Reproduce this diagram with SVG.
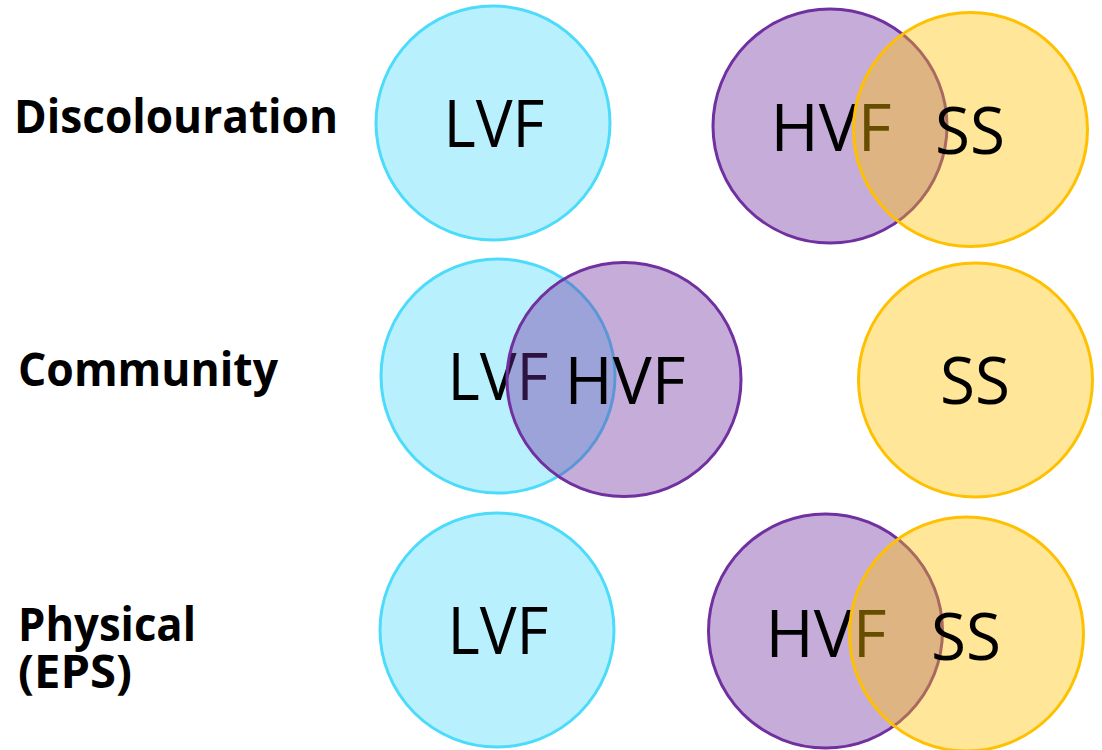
<svg xmlns="http://www.w3.org/2000/svg" width="1102" height="750" viewBox="0 0 1102 750">
<style>
.lab{font-family:"Open Sans","Liberation Sans",sans-serif;font-weight:bold;font-size:46px;fill:#000}
.t{font-family:"Open Sans","Liberation Sans",sans-serif;font-size:66px;fill:#000;text-anchor:middle}
.c{stroke-width:3}
.lvf{fill:rgba(77,219,251,0.4);stroke:#4ddbfb}
.hvf{fill:rgba(112,48,160,0.4);stroke:#7030a0}
.ss{fill:rgba(255,192,0,0.4);stroke:#ffc000}
</style>
<rect width="1102" height="750" fill="#fff"/>
<g id="labels">
<text class="lab" x="14" y="133" textLength="324" lengthAdjust="spacingAndGlyphs">Discolouration</text>
<text class="lab" x="18" y="386" textLength="260" lengthAdjust="spacingAndGlyphs">Community</text>
<text class="lab" x="18" y="641" textLength="178" lengthAdjust="spacingAndGlyphs">Physical</text>
<text class="lab" x="18" y="688" textLength="114" lengthAdjust="spacingAndGlyphs">(EPS)</text>
</g>
<g id="row1">
<g id="r1-lvf"><circle class="c lvf" cx="493" cy="123" r="117"/><text class="t" x="494" y="147" textLength="101" lengthAdjust="spacingAndGlyphs">LVF</text></g>
<g id="r1-hvf"><circle class="c hvf" cx="830" cy="126" r="117"/><text class="t" x="831" y="151" textLength="121" lengthAdjust="spacingAndGlyphs">HVF</text></g>
<g id="r1-ss"><circle class="c ss" cx="970.5" cy="129.5" r="117"/><text class="t" x="970" y="154" textLength="70" lengthAdjust="spacingAndGlyphs">SS</text></g>
</g>
<g id="row2">
<g id="r2-lvf"><circle class="c lvf" cx="498" cy="376" r="117"/><text class="t" x="498" y="400" textLength="101" lengthAdjust="spacingAndGlyphs">LVF</text></g>
<g id="r2-hvf"><circle class="c hvf" cx="624" cy="379.5" r="117"/><text class="t" x="625" y="404" textLength="121" lengthAdjust="spacingAndGlyphs">HVF</text></g>
<g id="r2-ss"><circle class="c ss" cx="975.5" cy="380" r="117"/><text class="t" x="975" y="404" textLength="70" lengthAdjust="spacingAndGlyphs">SS</text></g>
</g>
<g id="row3">
<g id="r3-lvf"><circle class="c lvf" cx="497" cy="630" r="117"/><text class="t" x="498" y="654" textLength="101" lengthAdjust="spacingAndGlyphs">LVF</text></g>
<g id="r3-hvf"><circle class="c hvf" cx="825.5" cy="631" r="117"/><text class="t" x="826" y="657" textLength="121" lengthAdjust="spacingAndGlyphs">HVF</text></g>
<g id="r3-ss"><circle class="c ss" cx="966.5" cy="634" r="117"/><text class="t" x="966" y="660" textLength="70" lengthAdjust="spacingAndGlyphs">SS</text></g>
</g>
</svg>
